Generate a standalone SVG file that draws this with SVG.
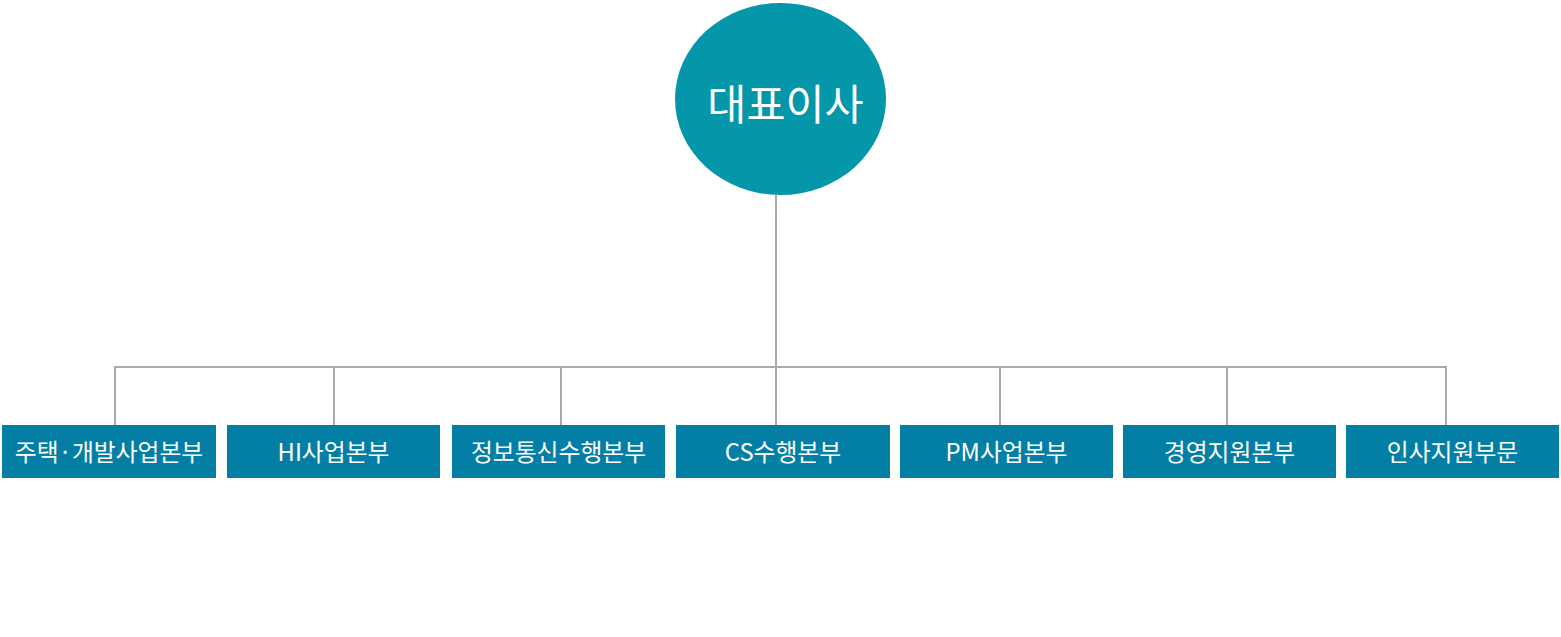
<svg xmlns="http://www.w3.org/2000/svg" width="1561" height="637" viewBox="0 0 1561 637">
  <style>
    .bg { fill: #ffffff; }
    .ceo { fill: #0497a9; }
    .box { fill: #037fa6; }
    .title { font-family: "Noto Sans CJK KR", "Noto Sans", sans-serif; fill: #ffffff; font-size: 42.5px; text-anchor: middle; dominant-baseline: central; }
    .label { font-family: "Noto Sans CJK KR", "Noto Sans", sans-serif; fill: #ffffff; font-size: 23.8px; text-anchor: middle; dominant-baseline: central; }
    .conn { stroke: #aaaaaa; stroke-width: 2; fill: none; }
  </style>
  <rect class="bg" x="0" y="0" width="1561" height="637"/>
  <g id="connectors">
    <path class="conn" d="M776 195 V367"/>
    <path class="conn" d="M115 426 V367 H1446 V426"/>
    <path class="conn" d="M334 367 V426"/>
    <path class="conn" d="M561 367 V426"/>
    <path class="conn" d="M776 367 V426"/>
    <path class="conn" d="M1000 367 V426"/>
    <path class="conn" d="M1227 367 V426"/>
  </g>
  <g id="ceo">
    <ellipse class="ceo" cx="780.5" cy="99" rx="105.5" ry="96"/>
    <text class="title" x="785.5" y="101">대표이사</text>
  </g>
  <g id="dept1">
    <rect class="box" x="2" y="425" width="214" height="53"/>
    <text class="label" x="109" y="450.5">주택·개발사업본부</text>
  </g>
  <g id="dept2">
    <rect class="box" x="227" y="425" width="213" height="53"/>
    <text class="label" x="333.5" y="450.5">HI사업본부</text>
  </g>
  <g id="dept3">
    <rect class="box" x="452" y="425" width="213" height="53"/>
    <text class="label" x="558.5" y="450.5">정보통신수행본부</text>
  </g>
  <g id="dept4">
    <rect class="box" x="676" y="425" width="214" height="53"/>
    <text class="label" x="783" y="450.5">CS수행본부</text>
  </g>
  <g id="dept5">
    <rect class="box" x="900" y="425" width="213" height="53"/>
    <text class="label" x="1006.5" y="450.5">PM사업본부</text>
  </g>
  <g id="dept6">
    <rect class="box" x="1123" y="425" width="213" height="53"/>
    <text class="label" x="1229.5" y="450.5">경영지원본부</text>
  </g>
  <g id="dept7">
    <rect class="box" x="1346" y="425" width="213" height="53"/>
    <text class="label" x="1452.5" y="450.5">인사지원부문</text>
  </g>
</svg>
